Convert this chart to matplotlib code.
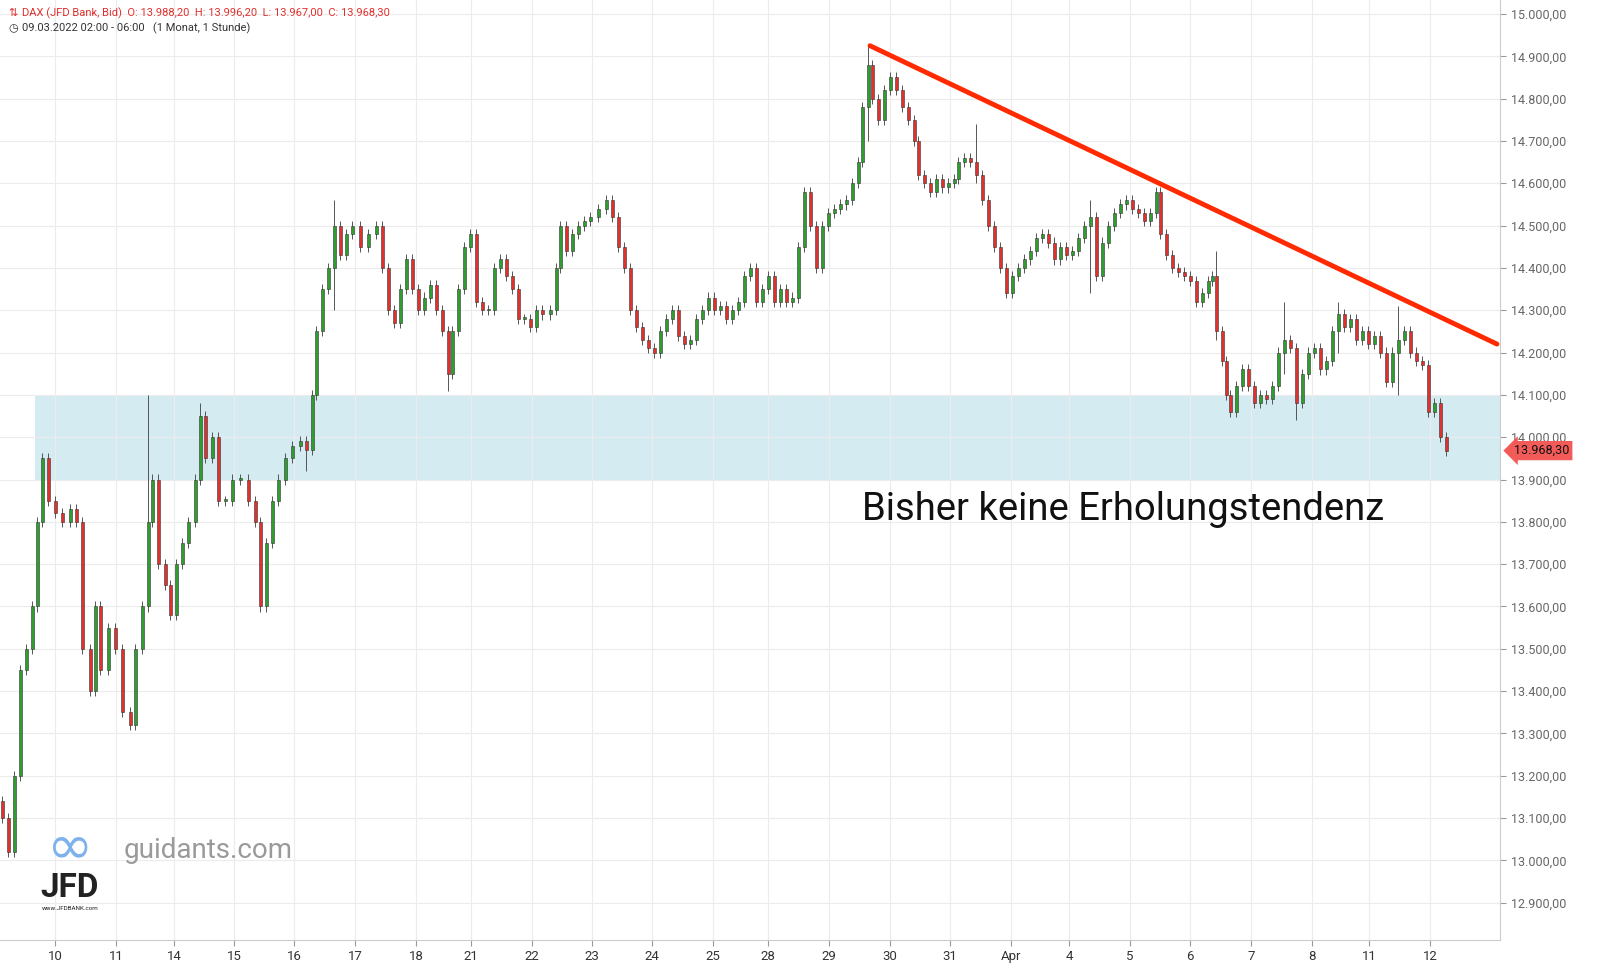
import matplotlib
matplotlib.use("Agg")
import matplotlib.pyplot as plt
from matplotlib.patches import Rectangle
import numpy as np

plt.rcParams['font.family'] = ['Roboto', 'DejaVu Sans']

# time axis position (approx. hour index * 4) and close prices
t = [2,8,14,20,26,32,37,42,48,55,62,70,76,82,90,95,100,108,115,122,130,135,142,148,152,158,165,170,
     176,182,188,195,200,205,212,218,225,232,240,248,255,260,266,272,278,285,292,300,306,312,316,322,328,334,340,346,352,360,368,376,
     382,388,394,400,406,412,418,424,430,436,442,448,452,458,464,470,476,482,488,494,500,506,512,518,524,530,536,542,550,556,
     560,566,572,578,584,590,598,606,612,618,624,630,636,642,648,654,660,666,672,678,684,690,696,702,708,714,720,726,732,738,
     744,750,756,762,768,774,780,786,792,798,804,810,816,822,828,834,840,846,852,858,862,868,872,878,884,890,896,902,908,914,
     918,924,930,936,942,948,954,958,964,970,976,982,988,994,1000,1006,1012,1018,1024,1030,1036,1042,1048,1054,1060,1066,1072,1078,
     1084,1090,1096,1102,1108,1114,1120,1126,1132,1138,1144,1150,1156,1160,1166,1172,1178,1184,1190,1196,1202,1208,1212,1216,1222,1226,
     1230,1236,1242,1248,1254,1260,1266,1272,1278,1284,1290,1296,1302,1308,1314,1320,1326,1332,1338,1344,1350,1356,1362,1368,1374,1380,
     1386,1392,1398,1404,1410,1416,1422,1428,1434,1440,1446]
close = [13100,13020,13200,13450,13500,13600,13800,13950,13850,13820,13800,13830,13800,13500,13400,13600,13450,13550,13500,13350,13320,13500,13600,13800,13900,13700,13650,13580,
     13700,13750,13800,13900,14050,13950,14000,13850,13850,13900,13900,13850,13800,13600,13750,13850,13900,13950,13980,13990,13970,14100,14250,14350,14400,14500,14430,14480,14500,14450,14480,14500,
     14400,14300,14270,14350,14420,14350,14300,14330,14360,14300,14250,14150,14250,14350,14450,14480,14320,14300,14300,14400,14420,14380,14350,14280,14280,14260,14300,14290,14300,14400,
     14500,14440,14480,14500,14510,14520,14540,14560,14520,14450,14400,14300,14260,14230,14210,14200,14250,14280,14300,14240,14220,14230,14280,14300,14330,14300,14310,14280,14300,14320,
     14380,14400,14320,14350,14380,14320,14350,14320,14330,14450,14580,14500,14400,14500,14530,14540,14550,14560,14600,14650,14780,14880,14800,14750,14820,14850,14820,14780,14750,14700,
     14620,14600,14580,14610,14590,14600,14610,14650,14660,14650,14620,14560,14500,14450,14400,14340,14380,14400,14420,14440,14470,14480,14460,14420,14450,14430,14440,14470,
     14500,14520,14380,14460,14500,14530,14550,14560,14540,14530,14510,14530,14580,14480,14430,14400,14390,14380,14370,14320,14340,14370,14380,14250,14180,14100,
     14060,14120,14160,14120,14080,14100,14090,14120,14200,14230,14210,14080,14150,14200,14210,14160,14180,14250,14290,14260,14280,14230,14250,14220,14240,14200,
     14130,14200,14230,14250,14200,14180,14170,14060,14080,14000,13968.3]
wick_t = [148, 200, 306, 334, 448, 868, 976, 1090, 1216, 1284, 1296, 1338, 1398]
wick_hi = [14100, 14080, 14000, 14560, 14160, 14930, 14740, 14560, 14440, 14320, 14120, 14320, 14310]
wick_lo = [13600, 13900, 13920, 14300, 14110, 14700, 14600, 14340, 14230, 14150, 14040, 14200, 14100]

day_labels = ["10","11","14","15","16","17","18","21","22","23","24","25","28","29","30","31","Apr","4","5","6","7","8","11","12"]
day_pos = [55,116,174,234,294,355,416,471,532,592,652,713,768,829,890,950,1011,1069,1130,1190,1251,1312,1369,1430]
yticks = list(range(12900, 15001, 100))

zone_lo, zone_hi = 13900, 14100
trend = [(870, 14925), (1497, 14220)]

fig = plt.figure(figsize=(16.23, 9.73), dpi=100)
ax = fig.add_axes([0, 33/973, 1500/1623, 940/973])
ax.set_xlim(0, 1500)
ax.set_ylim(12812, 15033)

opens = [close[0] + 40] + close[:-1]
wmap = {tt: (h, l) for tt, h, l in zip(wick_t, wick_hi, wick_lo)}
for x, o, c in zip(t, opens, close):
    up = c >= o
    col = "#2e9e2e" if up else "#e0312f"
    hi = max(o, c) + 12
    lo = min(o, c) - 12
    if x in wmap:
        hi = max(hi, wmap[x][0]); lo = min(lo, wmap[x][1])
    ax.vlines(x, lo, hi, color="#555555", lw=0.7, zorder=3)
    ax.add_patch(Rectangle((x - 1.5, min(o, c)), 3.0, max(abs(c - o), 3), facecolor=col,
                           edgecolor="#333333", lw=0.4, zorder=4))

ax.add_patch(Rectangle((35, zone_lo), 1465, zone_hi - zone_lo, facecolor="#add8e6", alpha=0.5, zorder=1))
ax.plot([trend[0][0], trend[1][0]], [trend[0][1], trend[1][1]], color="#ff2a00", lw=3.5, zorder=5, solid_capstyle="round")

ax.set_xticks(day_pos)
ax.set_xticklabels(day_labels, fontsize=9.5, color="#333333")
ax.set_yticks(yticks)
ax.set_yticklabels([f"{v:,.2f}".replace(",", "X").replace(".", ",").replace("X", ".") for v in yticks],
                   fontsize=9, color="#666666")
ax.yaxis.tick_right()
ax.tick_params(axis="y", length=4, color="#999999", pad=4)
ax.tick_params(axis="x", length=4, color="#999999", pad=3)
ax.grid(True, color="#ececec", lw=0.8, zorder=0)
for s in ["top", "left"]:
    ax.spines[s].set_visible(False)
ax.spines["right"].set_color("#cccccc")
ax.spines["bottom"].set_color("#cccccc")

ax.text(862, 13828, "Bisher keine Erholungstendenz", fontsize=27.5, color="#111111", va="center", zorder=6)

ax.annotate("13.968,30", xy=(1.0, 13968.3), xycoords=("axes fraction", "data"), xytext=(10, 0),
            textcoords="offset points", fontsize=9, color="#111111", va="center", annotation_clip=False,
            bbox=dict(boxstyle="larrow,pad=0.25", fc="#f25b57", ec="none"))

fig.text(22/1623, 1 - 13/973, "DAX (JFD Bank, Bid)  O: 13.988,20  H: 13.996,20  L: 13.967,00  C: 13.968,30",
         fontsize=8, color="#e0312f", va="center")
fig.text(8/1623, 1 - 13/973, "⇅", fontsize=8, color="#e0312f", va="center", family="DejaVu Sans")
fig.text(22/1623, 1 - 28/973, "09.03.2022 02:00 - 06:00   (1 Monat, 1 Stunde)", fontsize=8, color="#333333", va="center")
fig.text(8/1623, 1 - 28/973, "◷", fontsize=8, color="#333333", va="center", family="DejaVu Sans")

fig.text(124/1623, 1 - 850/973, "guidants.com", fontsize=20, color="#9a9a9a", va="center")
fig.text(70/1623, 1 - 848/973, "∞", fontsize=40, color="#7fb2ea", va="center", ha="center", family="DejaVu Sans")
fig.text(70/1623, 1 - 888/973, "JFD", fontsize=24, fontweight="bold", color="#222222", va="center", ha="center")
fig.text(70/1623, 1 - 909/973, "www.JFDBANK.com", fontsize=4.5, color="#222222", va="center", ha="center")

fig.savefig("out.png", dpi=100)
